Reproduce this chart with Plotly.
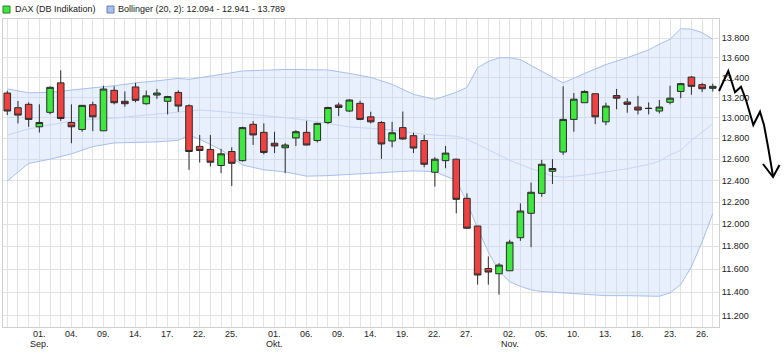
import math
import plotly.graph_objects as go

# ---------------- data ----------------
DATES = [
    "2020-08-27", "2020-08-28", "2020-08-31",
    "2020-09-01", "2020-09-02", "2020-09-03", "2020-09-04", "2020-09-07", "2020-09-08",
    "2020-09-09", "2020-09-10", "2020-09-11", "2020-09-14", "2020-09-15", "2020-09-16",
    "2020-09-17", "2020-09-18", "2020-09-21", "2020-09-22", "2020-09-23", "2020-09-24",
    "2020-09-25", "2020-09-28", "2020-09-29", "2020-09-30",
    "2020-10-01", "2020-10-02", "2020-10-05", "2020-10-06", "2020-10-07", "2020-10-08",
    "2020-10-09", "2020-10-12", "2020-10-13", "2020-10-14", "2020-10-15", "2020-10-16",
    "2020-10-19", "2020-10-20", "2020-10-21", "2020-10-22", "2020-10-23", "2020-10-26",
    "2020-10-27", "2020-10-28", "2020-10-29", "2020-10-30",
    "2020-11-02", "2020-11-03", "2020-11-04", "2020-11-05", "2020-11-06", "2020-11-09",
    "2020-11-10", "2020-11-11", "2020-11-12", "2020-11-13", "2020-11-16", "2020-11-17",
    "2020-11-18", "2020-11-19", "2020-11-20", "2020-11-23", "2020-11-24", "2020-11-25",
    "2020-11-26", "2020-11-27",
]

OPEN = [13243, 13098, 13131, 12911, 13052, 13345, 12953, 12885, 13127, 12872,
        13270, 13161, 13304, 13137, 13223, 13161, 13249, 13117, 12722, 12693,
        12540, 12673, 12586, 12935, 12857, 12752, 12709, 12803, 12857, 12778,
        12953, 13124, 13065, 13141, 13008, 12953, 12774, 12903, 12825, 12778,
        12477, 12586, 12600, 12234, 11982, 11605, 11559, 11585, 11877, 12097,
        12280, 12486, 12668, 12983, 13147, 13236, 12959, 13218, 13154, 13104,
        13092, 13065, 13151, 13259, 13403, 13327, 13290]
HIGH = [13267, 13164, 13151, 13131, 13310, 13472, 13131, 13124, 13157, 13316,
        13310, 13259, 13345, 13267, 13284, 13215, 13270, 13131, 12832, 12832,
        12697, 12713, 12912, 12966, 12944, 12863, 12752, 12879, 12969, 12950,
        13107, 13147, 13182, 13167, 13058, 12966, 12959, 13060, 12853, 12832,
        12619, 12726, 12603, 12280, 11982, 11710, 11652, 11858, 12188, 12380,
        12594, 12600, 13310, 13243, 13270, 13236, 13147, 13284, 13192, 13215,
        13150, 13174, 13316, 13345, 13413, 13345, 13337]
LOW = [13025, 12944, 12911, 12855, 13032, 12969, 12752, 12862, 12869, 12872,
       13131, 13107, 13151, 13127, 13185, 13032, 13058, 12500, 12568, 12530,
       12468, 12349, 12577, 12736, 12645, 12658, 12468, 12726, 12733, 12759,
       12937, 13015, 13055, 12976, 12944, 12603, 12713, 12784, 12658, 12524,
       12343, 12515, 12097, 11955, 11465, 11465, 11379, 11585, 11849, 11793,
       12249, 12367, 12641, 12863, 13147, 12937, 12927, 13082, 13048, 13032,
       13032, 13042, 13131, 13192, 13226, 13253, 13259]
CLOSE = [13065, 13025, 12983, 12953, 13300, 12992, 12911, 13121, 13008, 13283,
         13147, 13137, 13171, 13215, 13243, 13208, 13114, 12673, 12683, 12571,
         12651, 12561, 12903, 12832, 12664, 12726, 12735, 12863, 12735, 12944,
         13100, 13100, 13174, 12983, 12959, 12745, 12853, 12793, 12706, 12552,
         12600, 12658, 12225, 11962, 11548, 11574, 11635, 11837, 12118, 12290,
         12552, 12512, 12983, 13182, 13259, 13008, 13114, 13192, 13131, 13075,
         13090, 13104, 13192, 13337, 13310, 13286, 13310]

# Bollinger (20, 2) band, read at selected trading days (index into DATES)
BB_IDX = [0, 2, 4, 6, 8, 10, 12, 14, 16, 17, 18, 20, 22, 24, 26, 28, 30, 32, 34, 36,
          38, 40, 42, 43, 44, 45, 46, 47, 48, 49, 50, 51, 52, 54, 56, 58, 60, 61,
          62, 63, 64, 65, 66]
BB_UPPER = [13285, 13245, 13250, 13275, 13295, 13316, 13345, 13365, 13390, 13380,
            13395, 13430, 13465, 13475, 13480, 13478, 13475, 13440, 13400, 13330,
            13230, 13180, 13250, 13300, 13500, 13560, 13600, 13600, 13580, 13520,
            13460, 13400, 13345, 13440, 13530, 13600, 13680, 13740, 13790, 13900,
            13895, 13860, 13789]
BB_MID = [12830, 12890, 12930, 12965, 12985, 12995, 13015, 13035, 13060, 13065,
          13075, 13060, 13040, 13025, 13000, 12975, 12940, 12910, 12895, 12880,
          12850, 12830, 12820, 12790, 12740, 12690, 12640, 12590, 12550, 12510,
          12480, 12440, 12430, 12450, 12480, 12510, 12550, 12580, 12640, 12685,
          12780, 12860, 12941]
BB_LOWER = [12395, 12560, 12600, 12650, 12720, 12755, 12760, 12765, 12780, 12830,
            12790, 12690, 12545, 12500, 12480, 12440, 12445, 12455, 12470, 12480,
            12490, 12482, 12400, 12200, 11960, 11750, 11580, 11490, 11450, 11420,
            11405, 11400, 11395, 11380, 11370, 11370, 11368, 11365, 11393, 11465,
            11620, 11840, 12094]

TICK_IDX = [3, 6, 9, 12, 15, 18, 21, 25, 28, 31, 34, 37, 40, 43, 47, 50, 53, 56, 59, 62, 65]
TICK_TEXT = ["01.", "04.", "09.", "14.", "17.", "22.", "25.", "01.", "06.",
             "09.", "14.", "19.", "22.", "27.", "02.", "05.", "10.", "13.", "18.",
             "23.", "26."]
MONTH_IDX = [3, 25, 47]
MONTH_TEXT = ["Sep.", "Okt.", "Nov."]

Y_TICKS = list(range(11200, 13801, 200))
Y_TICKTEXT = [f"{v // 1000}.{v % 1000:03d}" for v in Y_TICKS]

LEGEND_DAX = "DAX (DB Indikation)"
LEGEND_BB = "Bollinger (20, 2): 12.094 - 12.941 - 13.789"

# hand-drawn arrow scribble on the right (pixel positions in the picture)
SCRIBBLE = [(719, 91), (728.3, 71), (735, 92.3), (741, 86.7), (746, 100), (753.3, 125),
            (760, 111.7), (764, 125), (768.3, 148.3), (771.7, 168.3), (773, 176.5)]
ARROW_HEAD = [(763, 164), (773, 177), (779.5, 165)]

# ---------------- figure ----------------
W, H = 784, 355
ML, MR, MT, MB = 3, 65, 19, 28
PW, PH = W - ML - MR, H - MT - MB

X = list(range(len(DATES)))
XR = [-0.40, 66.58]
YR = [math.log10(11105), math.log10(14002)]

FONT = "Liberation Sans, Arial, sans-serif"
FS = 9
TXT = "#222222"

fig = go.Figure()

# Bollinger band (main axes, drawn below)
fig.add_trace(go.Scatter(x=BB_IDX, y=BB_UPPER, mode="lines",
                         line=dict(color="#a7c0ee", width=1), hoverinfo="skip"))
fig.add_trace(go.Scatter(x=BB_IDX, y=BB_LOWER, mode="lines", fill="tonexty",
                         fillcolor="rgba(190,210,250,0.35)",
                         line=dict(color="#a7c0ee", width=1), hoverinfo="skip"))
fig.add_trace(go.Scatter(x=BB_IDX, y=BB_MID, mode="lines",
                         line=dict(color="#c6d6f5", width=1), hoverinfo="skip"))

# candles on overlaying axes so they sit above the band
fig.add_trace(go.Candlestick(
    x=X, open=OPEN, high=HIGH, low=LOW, close=CLOSE,
    xaxis="x2", yaxis="y2",
    increasing=dict(fillcolor="#3ee83e", line=dict(color="#2b2b2b", width=1)),
    decreasing=dict(fillcolor="#ee4242", line=dict(color="#2b2b2b", width=1)),
    whiskerwidth=0,
))


def px_to_paper(px, py):
    return (px - ML) / PW, (H - MB - py) / PH


shapes = []
for x0, fillc, linec in [(3, "#3ee83e", "#2d7a2d"), (107, "#a9bff0", "#6b80b3")]:
    a = px_to_paper(x0, 6)
    b = px_to_paper(x0 + 7, 13)
    shapes.append(dict(type="rect", xref="paper", yref="paper", x0=a[0], y0=b[1],
                       x1=b[0], y1=a[1], fillcolor=fillc, line=dict(color=linec, width=1)))


def path_of(points):
    pts = [px_to_paper(px, py) for px, py in points]
    return "M " + " L ".join(f"{x:.5f},{y:.5f}" for x, y in pts)


for pts in (SCRIBBLE, ARROW_HEAD):
    shapes.append(dict(type="path", xref="paper", yref="paper", path=path_of(pts),
                       line=dict(color="black", width=2)))

annotations = [
    dict(text=LEGEND_DAX, xref="paper", yref="paper", x=px_to_paper(13, 0)[0],
         y=px_to_paper(0, 9.5)[1], xanchor="left", yanchor="middle", showarrow=False,
         font=dict(family=FONT, size=FS, color=TXT)),
    dict(text=LEGEND_BB, xref="paper", yref="paper", x=px_to_paper(116, 0)[0],
         y=px_to_paper(0, 9.5)[1], xanchor="left", yanchor="middle", showarrow=False,
         font=dict(family=FONT, size=FS, color=TXT)),
]
for i, t in zip(TICK_IDX, TICK_TEXT):
    annotations.append(dict(text=t, xref="x", yref="paper", x=i, y=px_to_paper(0, 333.5)[1],
                            xanchor="center", yanchor="middle", showarrow=False,
                            font=dict(family=FONT, size=FS, color=TXT)))
for i, t in zip(MONTH_IDX, MONTH_TEXT):
    annotations.append(dict(text=t, xref="x", yref="paper", x=i, y=px_to_paper(0, 344)[1],
                            xanchor="center", yanchor="middle", showarrow=False,
                            font=dict(family=FONT, size=FS, color=TXT)))

axis_common = dict(showgrid=True, gridcolor="#e2e2e2", gridwidth=1, zeroline=False,
                   showline=True, linecolor="#cfcfcf", mirror=True, ticks="")

fig.update_layout(
    width=W, height=H,
    margin=dict(l=ML, r=MR, t=MT, b=MB, pad=0),
    paper_bgcolor="white", plot_bgcolor="white",
    boxgap=0.12,
    showlegend=False,
    shapes=shapes,
    annotations=annotations,
    font=dict(family=FONT, size=FS, color=TXT),
    xaxis=dict(range=XR, tickmode="array", tickvals=X, showticklabels=False,
               **axis_common),
    yaxis=dict(
        type="log", side="right", range=YR,
        tickmode="array", tickvals=Y_TICKS, ticktext=Y_TICKTEXT,
        ticklabelstandoff=0,
        tickfont=dict(family=FONT, size=FS, color=TXT),
        **axis_common,
    ),
    xaxis2=dict(range=XR, overlaying="x", visible=False, rangeslider=dict(visible=False)),
    yaxis2=dict(type="log", range=YR, overlaying="y", visible=False),
)
fig.update_xaxes(rangeslider_visible=False)

fig.write_html("out.html", config={"displayModeBar": False},
               post_script="document.body.style.margin='0';")
